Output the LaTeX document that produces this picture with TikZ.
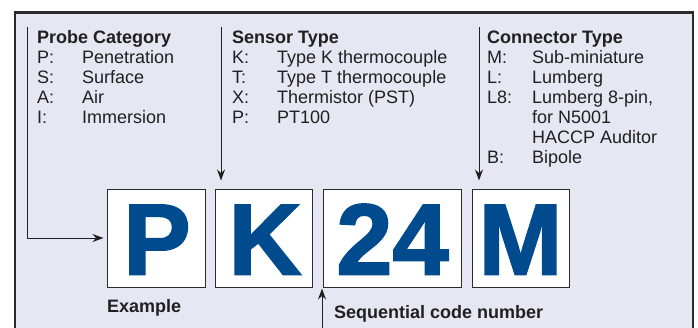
\documentclass[tikz,border=0pt]{standalone}
\usepackage{fontspec}
\setmainfont{Liberation Sans}
\newfontfamily\codefont[FakeBold=1.8]{Liberation Sans Bold}
\usetikzlibrary{arrows.meta}
\definecolor{bgfill}{HTML}{E5E8F2}
\definecolor{framecol}{HTML}{2B2B2B}
\definecolor{ink}{HTML}{231F20}
\definecolor{codeblue}{HTML}{004B8D}
\tikzset{
  txt/.style={anchor=base west, inner sep=0pt, text=ink, font=\fontsize{18}{20}\selectfont},
  head/.style={txt, font=\fontsize{18}{20}\selectfont\bfseries},
  codebox/.style={draw=framecol, line width=1pt, fill=white, inner sep=0pt},
  bigchar/.style={anchor=base, inner sep=0pt, text=codeblue, font=\fontsize{101}{101}\codefont},
  pointer/.style={draw=ink, line width=1pt, -{Stealth[length=11pt,width=8pt]}}
}
\begin{document}
\begin{tikzpicture}[x=1pt,y=-1pt]
\useasboundingbox (0,0) rectangle (698,327);
% frame
\path[fill=bgfill] (15,340) -- (15,12.5) -- (693,12.5) -- (693,340) -- cycle;
\draw[framecol, line width=2.8pt] (15,340) -- (15,12.5) -- (693,12.5) -- (693,340);

% code boxes
\node[codebox, minimum width=98pt, minimum height=98pt] (bp) at (156,238) {};
\node[codebox, minimum width=97pt, minimum height=98pt] (bk) at (263.5,238) {};
\node[codebox, minimum width=138pt, minimum height=98pt] (bn) at (392,238) {};
\node[codebox, minimum width=97pt, minimum height=98pt] (bm) at (520.5,238) {};
\node[bigchar] (cp) at (157,274.5) {P};
\node[bigchar] (ck) at (265,274.5) {K};
\node[bigchar] (cn) at (392.5,274.5) {24};
\node[bigchar] (cm) at (520.5,274.5) {M};

% probe category
\node[head] (h1) at (37,43) {Probe Category};
\node[txt] (p1a) at (37,63) {P:};  \node[txt] (p1b) at (82,63) {Penetration};
\node[txt] (p2a) at (37,83) {S:};  \node[txt] (p2b) at (82,83) {Surface};
\node[txt] (p3a) at (37,103) {A:}; \node[txt] (p3b) at (82,103) {Air};
\node[txt] (p4a) at (37,123) {I:}; \node[txt] (p4b) at (82,123) {Immersion};

% sensor type
\node[head] (h2) at (232,43) {Sensor Type};
\node[txt] (s1a) at (232,63) {K:};  \node[txt] (s1b) at (277,63) {Type K thermocouple};
\node[txt] (s2a) at (232,83) {T:};  \node[txt] (s2b) at (277,83) {Type T thermocouple};
\node[txt] (s3a) at (232,103) {X:}; \node[txt] (s3b) at (277,103) {Thermistor (PST)};
\node[txt] (s4a) at (232,123) {P:}; \node[txt] (s4b) at (277,123) {PT100};

% connector type
\node[head] (h3) at (487,43) {Connector Type};
\node[txt] (c1a) at (487,63) {M:};  \node[txt] (c1b) at (532,63) {Sub-miniature};
\node[txt] (c2a) at (487,83) {L:};  \node[txt] (c2b) at (532,83) {Lumberg};
\node[txt] (c3a) at (487,103) {L8:}; \node[txt] (c3b) at (532,103) {Lumberg 8-pin,};
\node[txt] (c3c) at (532,123) {for N5001};
\node[txt] (c3d) at (532,143) {HACCP Auditor};
\node[txt] (c4a) at (487,163) {B:}; \node[txt] (c4b) at (532,163) {Bipole};

% bottom labels
\node[head] (ex) at (107,312) {Example};
\node[head] (seq) at (334,318) {Sequential code number};

% pointer start points
\coordinate (pstart) at (27,27);
\coordinate (sstart) at (221,27);
\coordinate (cstart) at (479,27);
\coordinate (qstart) at (322,335);

\draw[pointer, shorten >=3pt] (pstart) |- (bp.west);
\draw[pointer, shorten >=8pt] (sstart) -- (sstart |- bk.north);
\draw[pointer, shorten >=8pt] (cstart) -- (cstart |- bm.north);
\draw[pointer, shorten >=1pt] (qstart) -- (qstart |- bn.south);
\end{tikzpicture}
\end{document}
